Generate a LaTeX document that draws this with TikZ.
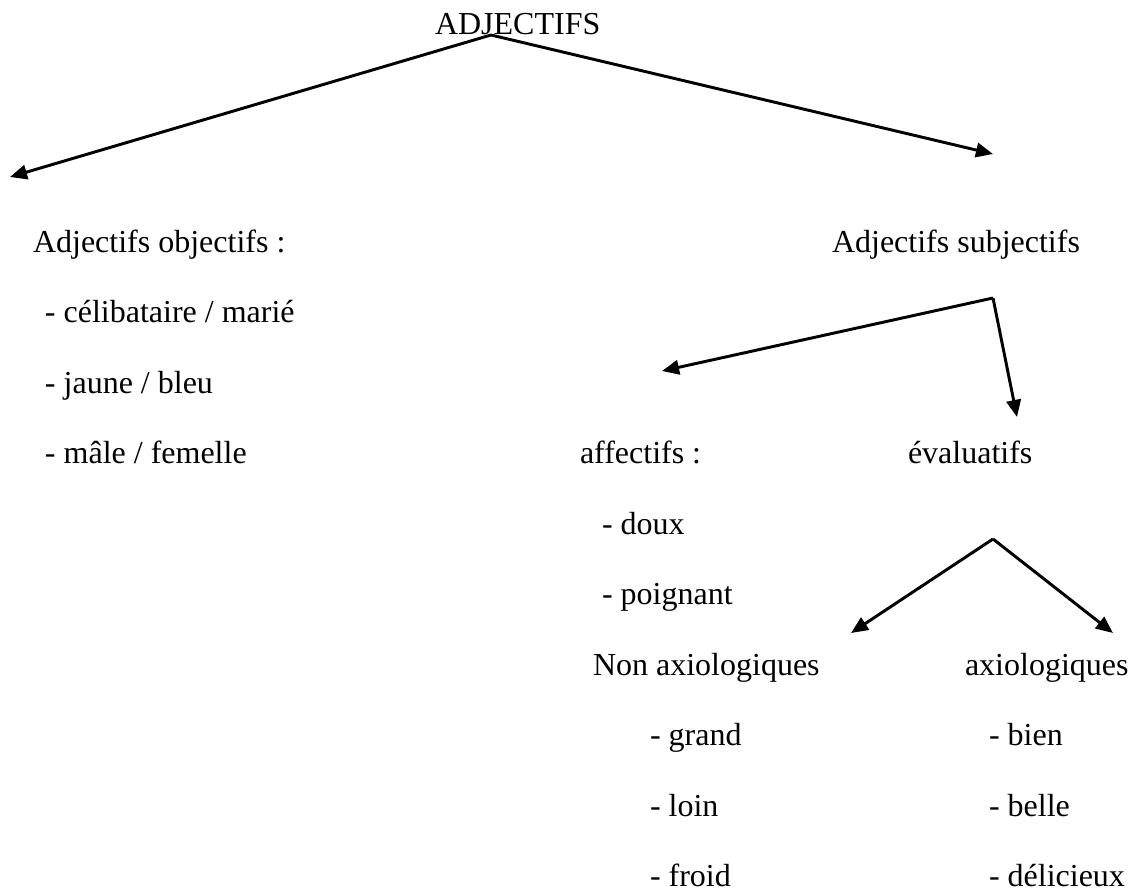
\documentclass[tikz,border=0pt]{standalone}
\usepackage{fontspec}
\setmainfont{Liberation Serif}
\usetikzlibrary{arrows.meta}
\begin{document}
\begin{tikzpicture}[x=0.375pt,y=-0.375pt,
  lbl/.style={anchor=base west,inner sep=0pt,outer sep=0pt,font=\fontsize{12pt}{14pt}\selectfont},
  arr/.style={line width=1.1pt,-{Triangle[length=6.4pt,width=5.4pt]}}]
\useasboundingbox (0,0) rectangle (1130,892);
% texts
\node[lbl] (root) at (435,35) {ADJECTIFS};
\node[lbl] (obj) at (33,252) {Adjectifs objectifs :};
\node[lbl] (o1) at (45,322.5) {- célibataire / marié};
\node[lbl] (o2) at (45,393) {- jaune / bleu};
\node[lbl] (o3) at (45,463.5) {- mâle / femelle};
\node[lbl] (subj) at (832,252) {Adjectifs subjectifs};
\node[lbl] (aff) at (580,463.5) {affectifs :};
\node[lbl] (a1) at (602,534) {- doux};
\node[lbl] (a2) at (602,604.5) {- poignant};
\node[lbl] (eval) at (908,463.5) {évaluatifs};
\node[lbl] (nonax) at (593,675) {Non axiologiques};
\node[lbl] (n1) at (650,745.5) {- grand};
\node[lbl] (n2) at (650,816) {- loin};
\node[lbl] (n3) at (650,886.5) {- froid};
\node[lbl] (ax) at (965,675) {axiologiques};
\node[lbl] (x1) at (989,745.5) {- bien};
\node[lbl] (x2) at (989,816) {- belle};
\node[lbl] (x3) at (989,886.5) {- délicieux};
% connector ends
\coordinate (r0) at (491,35);
\coordinate (tobj) at (10,177);
\coordinate (tsubj) at (993,154);
\coordinate (s0) at (993,298);
\coordinate (taff) at (662,371);
\coordinate (teval) at (1017,417);
\coordinate (e0) at (993,539);
\coordinate (tnon) at (851,633);
\coordinate (tax) at (1113,633);
% connectors
\draw[arr] (r0) -- (tobj);
\draw[arr] (r0) -- (tsubj);
\draw[arr] (s0) -- (taff);
\draw[arr] (s0) -- (teval);
\draw[arr] (e0) -- (tnon);
\draw[arr] (e0) -- (tax);
\end{tikzpicture}
\end{document}
